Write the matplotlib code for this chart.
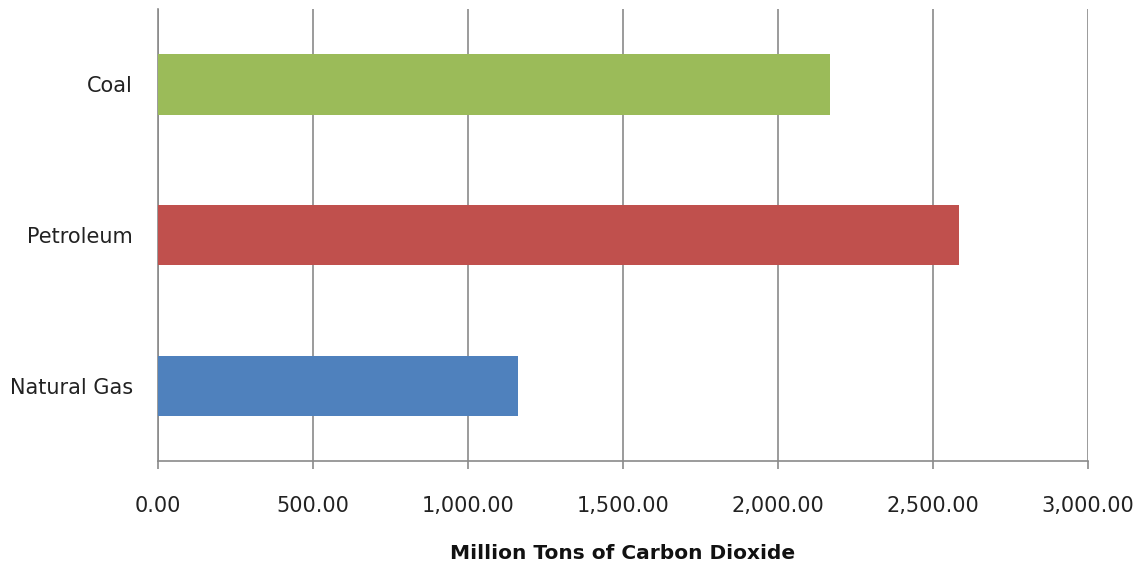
import matplotlib
matplotlib.use('Agg')
import matplotlib.pyplot as plt
from matplotlib.ticker import FuncFormatter

# CO2 emissions by fuel source
fuels = ['Natural Gas', 'Petroleum', 'Coal']
emissions = [1162, 2585, 2167]
colors = ['#4F81BD', '#C0504D', '#9BBB59']
xticks = [0, 500, 1000, 1500, 2000, 2500, 3000]

plt.rcParams['font.family'] = ['DejaVu Sans']

fig = plt.figure(figsize=(11.42, 5.69), dpi=100)
ax = fig.add_axes([0.1384, 0.189, 0.8143, 0.795])

ax.barh(range(len(fuels)), emissions, height=0.4, color=colors, zorder=3)

ax.set_xlim(0, 3000)
ax.set_ylim(-0.5, 2.5)
ax.set_xticks(xticks)
ax.xaxis.set_major_formatter(FuncFormatter(lambda v, p: '{:,.2f}'.format(v)))
ax.set_yticks(range(len(fuels)))
ax.set_yticklabels(fuels)

ax.grid(axis='x', color='#8a8a8a', linewidth=1.2, zorder=0)
for side in ['top', 'right']:
    ax.spines[side].set_visible(False)
for side in ['left', 'bottom']:
    ax.spines[side].set_color('#8a8a8a')
    ax.spines[side].set_linewidth(1.2)

ax.tick_params(axis='x', length=6, width=1.2, color='#8a8a8a', pad=19,
               labelsize=15, labelcolor='#222222')
ax.tick_params(axis='y', length=0, pad=18, labelsize=15, labelcolor='#222222')

ax.set_xlabel('Million Tons of Carbon Dioxide', fontsize=14.5, fontweight='bold',
              color='#111111', labelpad=20)

fig.savefig('out.png', dpi=100)
